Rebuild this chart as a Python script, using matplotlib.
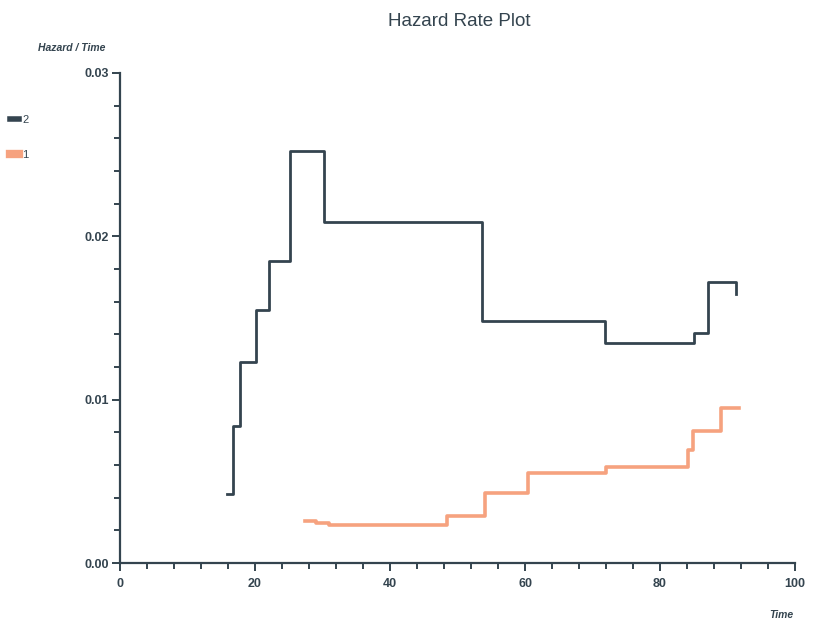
import matplotlib
matplotlib.use("Agg")
import matplotlib.pyplot as plt
from matplotlib.lines import Line2D
from matplotlib.ticker import MultipleLocator

plt.rcParams["font.family"] = ["Liberation Sans", "DejaVu Sans"]

# Hazard rate step values
group2_time = [15.9, 16.7, 17.8, 20.1, 22.1, 25.2, 30.2, 53.6, 71.9, 85.0, 87.1, 91.3]
group2_rate = [0.0042, 0.0084, 0.0123, 0.0155, 0.0185, 0.0252, 0.0209, 0.0148, 0.0135, 0.0141, 0.0172, 0.0165]

group1_time = [27.4, 29.0, 31.0, 48.4, 54.0, 60.4, 72.0, 84.1, 84.9, 89.1, 91.7]
group1_rate = [0.0026, 0.00245, 0.00235, 0.0029, 0.0043, 0.0055, 0.0059, 0.0069, 0.0081, 0.0095, 0.0095]

group_labels = ["2", "1"]
dark = "#34444f"
salmon = "#f6a27f"

fig = plt.figure(figsize=(8.18, 6.26), dpi=100)
ax = fig.add_axes([0.1467, 0.1006, 0.8252, 0.7828])

ax.step(group2_time, group2_rate, where="post", color=dark, lw=2.0)
ax.step(group1_time, group1_rate, where="post", color=salmon, lw=2.6)

ax.set_xlim(0, 100)
ax.set_ylim(0, 0.03)
ax.xaxis.set_major_locator(MultipleLocator(20))
ax.xaxis.set_minor_locator(MultipleLocator(4))
ax.yaxis.set_major_locator(MultipleLocator(0.01))
ax.yaxis.set_minor_locator(MultipleLocator(0.002))
ax.yaxis.set_major_formatter(matplotlib.ticker.FormatStrFormatter("%.2f"))

for side in ["top", "right"]:
    ax.spines[side].set_visible(False)
for side in ["left", "bottom"]:
    ax.spines[side].set_color(dark)
    ax.spines[side].set_linewidth(1.6)

ax.tick_params(which="both", direction="out", color=dark, width=1.4)
ax.tick_params(which="major", length=6, labelsize=9, labelcolor=dark, pad=2)
ax.tick_params(axis="x", which="major", pad=5)
ax.tick_params(which="minor", length=4)
for lab in ax.get_xticklabels() + ax.get_yticklabels():
    lab.set_fontweight("bold")

fig.text(0.562, 0.966, "Hazard Rate Plot", ha="center", va="center",
         fontsize=13.5, color=dark)
fig.text(0.088, 0.923, "Hazard / Time", ha="center", va="center",
         fontsize=7.5, fontweight="bold", style="italic", color=dark)
fig.text(0.955, 0.018, "Time", ha="center", va="center",
         fontsize=7.5, fontweight="bold", style="italic", color=dark)

handles = [Line2D([], [], color=dark, lw=4), Line2D([], [], color=salmon, lw=6)]
fig.legend(handles, group_labels, loc="upper left", bbox_to_anchor=(0.0, 0.832),
           frameon=False, handlelength=0.8, handletextpad=0.3, fontsize=8,
           labelcolor=dark, labelspacing=2.2)

fig.savefig("out.png", dpi=100)
